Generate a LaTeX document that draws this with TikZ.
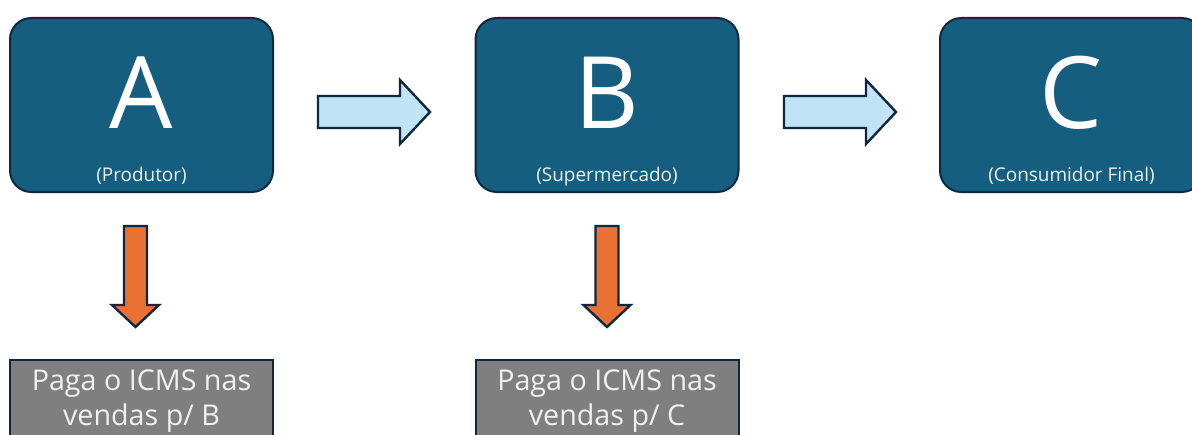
\documentclass[tikz,border=0pt]{standalone}
\usepackage{fontspec}
\setmainfont{Open Sans}

\definecolor{caixaazul}{RGB}{22,94,128}
\definecolor{contorno}{RGB}{14,40,65}
\definecolor{setaazul}{RGB}{192,228,245}
\definecolor{setalaranja}{RGB}{233,113,50}
\definecolor{caixacinza}{RGB}{127,127,127}

\begin{document}
\begin{tikzpicture}[x=0.75pt,y=-0.75pt,
	etapa/.style={draw=contorno, line width=1.5pt, fill=caixaazul, rounded corners=16pt,
		minimum width=197.25pt, minimum height=130.5pt, inner sep=0pt},
	letra/.style={text=white, font=\fontsize{75}{80}\selectfont, inner sep=0pt},
	papel/.style={text=white!92!caixaazul, font=\fontsize{14.2}{16}\selectfont, inner sep=0pt},
	imposto/.style={draw=contorno, line width=1.5pt, fill=caixacinza,
		minimum width=197.25pt, minimum height=60pt, inner sep=0pt},
	impostotexto/.style={text=white!94!black, font=\fontsize{21.5}{26.25}\selectfont, align=center, inner sep=0pt},
	setaH/.style={draw=contorno, line width=1.8pt, fill=setaazul},
	setaV/.style={draw=contorno, line width=1.8pt, fill=setalaranja}]

	\useasboundingbox (0,0) rectangle (1192,435);
	\clip (0,0) rectangle (1192,435);

	%Etapas A, B, C
	\node[etapa] (A) at (141.5,105) {};
	\node[etapa] (B) at (607,105) {};
	\node[etapa] (C) at (1071.5,105) {};

	\node[letra, anchor=base] (Aletra) at (141.5,128) {A};
	\node[letra, anchor=base] (Bletra) at (607,128) {B};
	\node[letra, anchor=base] (Cletra) at (1071.5,128) {C};

	\node[papel, anchor=base] (Apapel) at (141.5,181) {(Produtor)};
	\node[papel, anchor=base] (Bpapel) at (607,181) {(Supermercado)};
	\node[papel, anchor=base] (Cpapel) at (1071.5,181) {(Consumidor Final)};

	%Setas entre as etapas
	\draw[setaH] (318,96) -- (400,96) -- (400,80) -- (430,112) -- (400,144) -- (400,128) -- (318,128) -- cycle;
	\draw[setaH] (784,96) -- (866,96) -- (866,80) -- (896,112) -- (866,144) -- (866,128) -- (784,128) -- cycle;

	%Setas para baixo
	\draw[setaV] (124,226) -- (147,226) -- (147,305) -- (159,305) -- (135.5,327) -- (112,305) -- (124,305) -- cycle;
	\draw[setaV] (595.5,226) -- (618.5,226) -- (618.5,305) -- (630.5,305) -- (607,327) -- (583.5,305) -- (595.5,305) -- cycle;

	%ICMS
	\node[imposto] (Aimposto) at (141.5,400) {};
	\node[imposto] (Bimposto) at (607,400) {};

	\node[impostotexto] (Atexto) at (141.5,401) {Paga o ICMS nas\\vendas p/ B};
	\node[impostotexto] (Btexto) at (607,401) {Paga o ICMS nas\\vendas p/ C};

\end{tikzpicture}
\end{document}
